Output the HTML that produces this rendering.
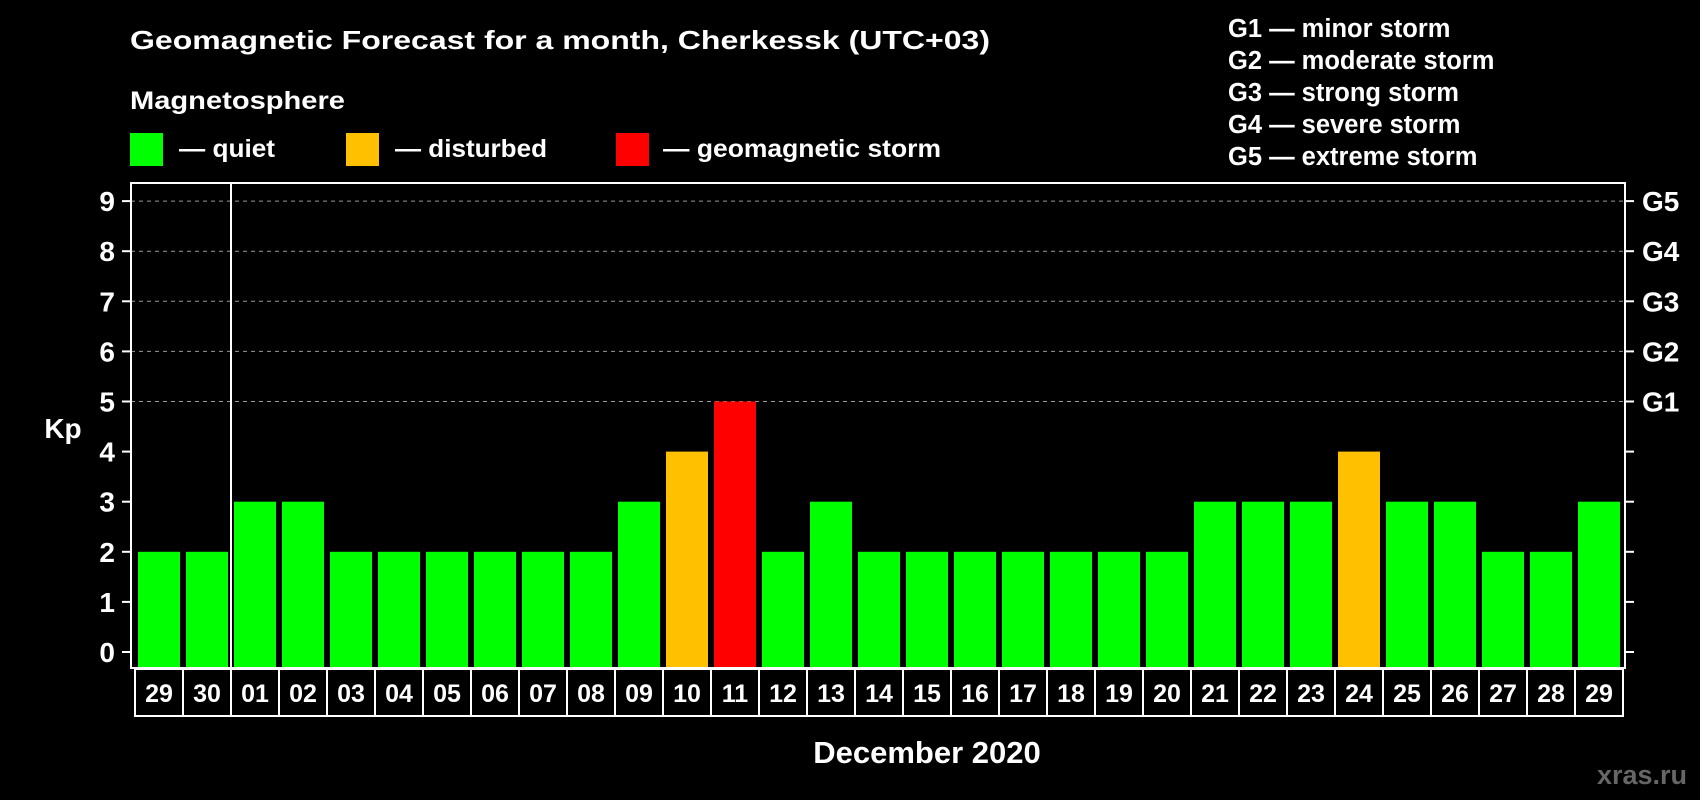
<!DOCTYPE html>
<html><head><meta charset="utf-8"><style>
html,body{margin:0;padding:0;background:#000;}
svg{display:block;font-family:"Liberation Sans",sans-serif;font-weight:bold;}
</style></head><body>
<svg id="chart" width="1700" height="800" viewBox="0 0 1700 800">
<rect width="1700" height="800" fill="#000"/>
<text x="130" y="49" fill="#fff" font-size="26" textLength="860" lengthAdjust="spacingAndGlyphs">Geomagnetic Forecast for a month, Cherkessk (UTC+03)</text>
<text x="130" y="109" fill="#fff" font-size="25" textLength="215" lengthAdjust="spacingAndGlyphs">Magnetosphere</text>
<g><rect x="130" y="133" width="33" height="33" fill="#00ff00"/><text x="179" y="157" fill="#fff" font-size="25" textLength="96" lengthAdjust="spacingAndGlyphs">— quiet</text></g>
<g><rect x="346" y="133" width="33" height="33" fill="#ffc000"/><text x="395" y="157" fill="#fff" font-size="25" textLength="152" lengthAdjust="spacingAndGlyphs">— disturbed</text></g>
<g><rect x="616" y="133" width="33" height="33" fill="#ff0000"/><text x="663" y="157" fill="#fff" font-size="25" textLength="278" lengthAdjust="spacingAndGlyphs">— geomagnetic storm</text></g>
<g fill="#fff" font-size="25.5">
<text x="1228" y="37">G1 — minor storm</text>
<text x="1228" y="69">G2 — moderate storm</text>
<text x="1228" y="101">G3 — strong storm</text>
<text x="1228" y="133">G4 — severe storm</text>
<text x="1228" y="165">G5 — extreme storm</text>
</g>
<g id="plot"></g>
<text x="63" y="438" fill="#fff" font-size="28" text-anchor="middle">Kp</text>
<text x="927" y="763" fill="#fff" font-size="31" text-anchor="middle">December 2020</text>
<text x="1642" y="784" fill="#666" font-size="27" text-anchor="middle">xras.ru</text>
</svg>
<script>
const days = ["29","30","01","02","03","04","05","06","07","08","09","10","11","12","13","14","15","16","17","18","19","20","21","22","23","24","25","26","27","28","29"];
const kpValues = [2,2,3,3,2,2,2,2,2,2,3,4,5,2,3,2,2,2,2,2,2,2,3,3,3,4,3,3,2,2,3];
const yTicks = [0,1,2,3,4,5,6,7,8,9];
const gLabels = ["G1","G2","G3","G4","G5"];
const gLevels = [5,6,7,8,9];

const NS="http://www.w3.org/2000/svg";
const plot=document.getElementById('plot');
const L=131,R=1625,T=183,B=668,X0=136,SW=48;
const y=v=>652-v*50.1;
const xs=i=>X0+i*SW;
function mk(tag,attrs){const e=document.createElementNS(NS,tag);for(const k in attrs)e.setAttribute(k,attrs[k]);plot.appendChild(e);return e;}

yTicks.forEach(t=>{
  if(t>=5){const g=mk('line',{x1:L,x2:R,y1:y(t),y2:y(t),stroke:'#999','stroke-width':1,'stroke-dasharray':'4,4'});
  
  }
  const tl=mk('line',{x1:122,x2:L,y1:y(t),y2:y(t),stroke:'#fff','stroke-width':2});
  
  
  const tr=mk('line',{x1:R,x2:R+9,y1:y(t),y2:y(t),stroke:'#fff','stroke-width':2});
  
  
  const lb=mk('text',{x:115,y:y(t)+10,fill:'#fff','font-size':28,'text-anchor':'end'});
  lb.textContent=t;
  
  
});
gLabels.forEach((g,i)=>{
  const t=mk('text',{x:1642,y:y(gLevels[i])+10,fill:'#fff','font-size':28});
  t.textContent=g;
  
  
});
kpValues.forEach((v,i)=>{
  const c=v>=5?'#ff0000':(v>=4?'#ffc000':'#00ff00');
  const b=mk('rect',{x:xs(i)+2,y:y(v),width:42,height:B-y(v)-1,fill:c});
  
  
  const bx=mk('rect',{x:xs(i)-1,y:B+1,width:SW,height:47,fill:'none',stroke:'#fff','stroke-width':2});
  
  
  const t=mk('text',{x:xs(i)+23,y:B+34,fill:'#fff','font-size':25,'text-anchor':'middle'});
  t.textContent=days[i];
  
  
});
const fr=mk('rect',{x:L,y:T,width:R-L,height:B-T,fill:'none',stroke:'#fff','stroke-width':2});


const dv=mk('line',{x1:231,x2:231,y1:T,y2:B,stroke:'#fff','stroke-width':2});


</script>
</body></html>
